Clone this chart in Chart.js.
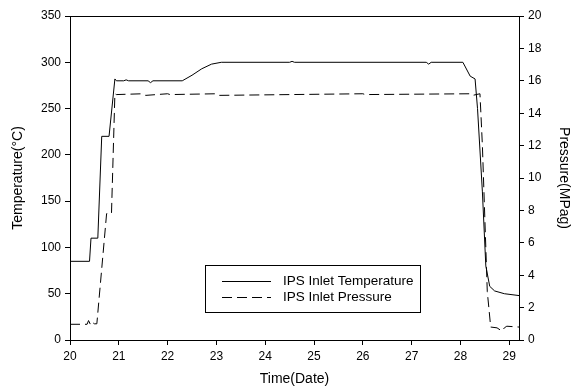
<!DOCTYPE html>
<html>
<head>
<meta charset="utf-8">
<script src="https://cdn.jsdelivr.net/npm/chart.js@4.4.0/dist/chart.umd.min.js"></script>
<style>
  html, body { margin: 0; padding: 0; background: #fff; }
  #wrap { width: 574px; height: 392px; }
</style>
</head>
<body>
<div id="wrap"><canvas id="chart" width="574" height="392"></canvas></div>
<script>
// time in days, temperature in degC
const tempTime = [20.0, 20.4, 20.43, 20.57, 20.65, 20.8, 20.92, 20.95, 21.1, 21.15, 21.2, 21.6, 21.65, 21.7,
  22.3, 22.5, 22.7, 22.9, 23.1, 24.5, 24.55, 24.6, 27.3, 27.35, 27.4, 28.05, 28.2, 28.3, 28.35, 28.45,
  28.52, 28.6, 28.7, 28.9, 29.2];
const tempValues = [85, 85, 110, 110, 220, 220, 282, 280, 280, 281, 280, 280, 278, 280,
  280, 286, 293, 298, 300, 300, 301, 300, 300, 298, 300, 300, 285, 282, 250, 160,
  80, 58, 53, 50, 48];

// time in days, pressure in MPag
const presTime = [20.0, 20.35, 20.38, 20.42, 20.45, 20.5, 20.55, 20.75, 20.85, 20.92, 20.95, 21.5, 21.55,
  22.0, 22.05, 23.0, 23.05, 26.0, 26.05, 28.2, 28.25, 28.4, 28.45, 28.55, 28.62, 28.75, 28.85, 28.9, 28.95, 29.2];
const presValues = [0.97, 0.97, 1.2, 0.95, 1.1, 1.0, 1.0, 7.8, 7.8, 15.2, 15.15, 15.2, 15.1,
  15.2, 15.15, 15.2, 15.1, 15.2, 15.15, 15.2, 15.1, 15.2, 12.0, 3.0, 0.8, 0.75, 0.55, 0.75, 0.85, 0.8];

const xTicks = [20, 21, 22, 23, 24, 25, 26, 27, 28, 29];

const fam = "'Liberation Sans', Arial, sans-serif";
const tickFont = { family: fam, size: 12 };
const titleFont = { family: fam, size: 14 };

const framePlugin = {
  id: 'frame',
  afterDraw(chart) {
    const { ctx, chartArea: a } = chart;
    ctx.save();
    ctx.strokeStyle = '#000';
    ctx.lineWidth = 1;
    ctx.strokeRect(Math.round(a.left) + 0.5, Math.round(a.top) + 0.5,
      Math.round(a.right - a.left), Math.round(a.bottom - a.top));

    // legend box
    const bx = 205.5, by = 265.5, bw = 215, bh = 47;
    ctx.fillStyle = '#fff';
    ctx.fillRect(bx, by, bw, bh);
    ctx.strokeRect(bx, by, bw, bh);
    ctx.font = "13.5px " + fam;
    ctx.fillStyle = '#000';
    ctx.textBaseline = 'middle';
    chart.data.datasets.forEach((ds, i) => {
      const y = 281.5 + i * 16;
      ctx.beginPath();
      ctx.setLineDash(ds.borderDash || []);
      ctx.moveTo(222, y);
      ctx.lineTo(271, y);
      ctx.stroke();
      ctx.setLineDash([]);
      ctx.fillText(ds.label, 283, y);
    });
    ctx.restore();
  }
};

new Chart(document.getElementById('chart'), {
  type: 'line',
  data: {
    datasets: [
      {
        label: 'IPS Inlet Temperature',
        data: tempTime.map((t, i) => ({ x: t, y: tempValues[i] })),
        borderColor: '#000',
        borderWidth: 1,
        pointRadius: 0,
        tension: 0,
        yAxisID: 'y'
      },
      {
        label: 'IPS Inlet Pressure',
        data: presTime.map((t, i) => ({ x: t, y: presValues[i] })),
        borderColor: '#000',
        borderWidth: 1,
        borderDash: [10, 5],
        pointRadius: 0,
        tension: 0,
        yAxisID: 'y1'
      }
    ]
  },
  options: {
    responsive: false,
    animation: false,
    layout: { padding: { top: 16, left: 0, right: 0, bottom: 0 } },
    plugins: { legend: { display: false }, tooltip: { enabled: false } },
    scales: {
      x: {
        type: 'linear',
        min: 20,
        max: 29.2,
        afterBuildTicks: s => { s.ticks = xTicks.map(v => ({ value: v })); },
        ticks: { color: '#000', font: tickFont, padding: 4, maxRotation: 0 },
        grid: { drawOnChartArea: false, drawTicks: true, tickLength: 5, tickColor: '#000' },
        border: { display: true, color: '#000' },
        title: { display: true, text: 'Time(Date)', color: '#000', font: titleFont, padding: { top: 8 } },
        afterFit: s => { s.height = 52; }
      },
      y: {
        position: 'left',
        min: 0,
        max: 350,
        ticks: { stepSize: 50, color: '#000', font: tickFont, padding: 4 },
        grid: { drawOnChartArea: false, drawTicks: true, tickLength: 5, tickColor: '#000' },
        border: { display: true, color: '#000' },
        title: { display: true, text: 'Temperature(°C)', color: '#000', font: titleFont, padding: { top: 10, bottom: 0 } },
        afterFit: s => { s.width = 70; }
      },
      y1: {
        position: 'right',
        min: 0,
        max: 20,
        ticks: { stepSize: 2, color: '#000', font: tickFont, padding: 4 },
        grid: { drawOnChartArea: false, drawTicks: true, tickLength: 5, tickColor: '#000' },
        border: { display: true, color: '#000' },
        title: { display: true, text: 'Pressure(MPag)', color: '#000', font: titleFont, padding: { top: 2, bottom: 0 } },
        afterFit: s => { s.width = 55; }
      }
    }
  },
  plugins: [framePlugin]
});
</script>
</body>
</html>
